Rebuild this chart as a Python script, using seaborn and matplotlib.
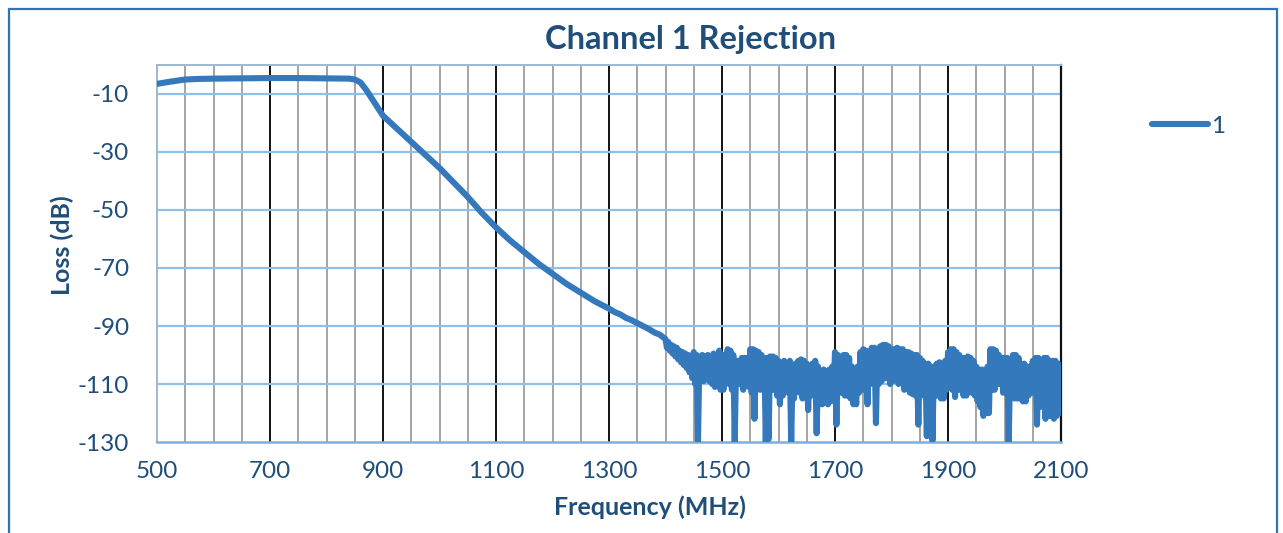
import matplotlib
matplotlib.use("Agg")
import matplotlib.pyplot as plt
from matplotlib.patches import Rectangle
import numpy as np
import pandas as pd
import seaborn as sns

# passband + roll-off (MHz, dB)
freq_smooth = [500, 525, 550, 575, 600, 650, 700, 750, 800, 840, 850, 860, 870,
               880, 890, 900, 925, 950, 975, 1000, 1025, 1050, 1075, 1100, 1125,
               1150, 1175, 1200, 1225, 1250, 1275, 1300, 1310, 1320, 1330, 1340,
               1350, 1360, 1370, 1380, 1390]
loss_smooth = [-6.5, -5.7, -5.0, -4.8, -4.7, -4.6, -4.5, -4.5, -4.6, -4.7, -5.0,
               -6.0, -8.5, -11.5, -14.5, -17.5, -22.0, -26.5, -31.0, -35.5, -40.5,
               -45.5, -51.0, -56.0, -60.5, -64.5, -68.5, -72.0, -75.5, -78.5,
               -81.5, -84.0, -85.2, -86.0, -87.2, -88.0, -89.0, -90.0, -91.0,
               -92.2, -93.0]

# noise floor: upper edge read every 5 MHz (1400..2100)
floor_top = [
    -94.5, -95.5, -96.5, -97, -97.5, -98.5, -99, -99.5, -100, -100.5,
    -99, -100, -101, -100, -100.5, -100, -101, -99.5, -100, -98.5,
    -100, -100, -98, -98.5, -100, -102, -102, -101, -101, -101,
    -98, -98, -98.5, -99, -100, -101, -101, -100.5, -100.5, -101,
    -102, -103, -102, -103, -102, -104, -103, -102, -101.5, -102,
    -103, -104, -103, -102, -104, -106, -105, -105.5, -105, -104,
    -99, -100, -101, -100, -100, -101, -104, -105, -104, -99,
    -98, -98.5, -99, -97.5, -97.5, -98, -97, -96.5, -96.5, -97,
    -98, -98, -97.5, -98, -98, -99, -99, -99.5, -100, -100,
    -101, -102, -103, -103, -104, -104, -103, -102.5, -104, -102,
    -99, -98, -98, -99, -100, -101, -101, -100.5, -101, -102,
    -104, -105, -105, -106, -104, -98, -98, -98.5, -100, -101,
    -101, -101, -102, -100, -100, -101, -103, -103, -104, -104,
    -102, -101, -101, -102, -101, -101, -102, -102, -102, -103, -104,
]
# noise floor: lower edge and dropouts read every 5 MHz (1402.5..2097.5)
floor_bottom = [
    -97.5, -98.5, -99.5, -100.5, -101.5, -102.5, -103.5, -104.5, -106, -108,
    -110, -130, -108, -109, -108, -109, -110, -111, -110, -112,
    -112, -108, -110, -112, -130, -110, -110, -112, -110, -111,
    -113, -122, -110, -112, -110, -130, -129, -112, -112, -114,
    -117, -114, -112, -113, -130, -115, -111, -113, -115, -114,
    -119, -114, -112, -127, -115, -117, -116, -117, -116, -113,
    -124, -113, -113, -114, -114, -115, -117, -117, -113, -112,
    -112, -117, -110, -108, -123.5, -110, -109, -108, -108, -110,
    -109, -108, -110, -109, -112, -111, -113, -113.5, -114, -124,
    -112, -114, -128, -113, -129.5, -114, -114, -115, -115, -112,
    -111, -112, -114.5, -112, -112, -114, -114, -112, -113, -114,
    -116, -118, -121, -120, -120, -112, -112, -110, -110, -113,
    -113, -130, -113, -115, -115, -115, -116, -116, -114, -113,
    -113, -124, -118, -116, -122, -121, -121, -122, -121, -120,
]
freq_top = np.arange(1400, 2101, 5)
freq_bottom = np.arange(1402.5, 2100, 5)

x_ticks = [500, 700, 900, 1100, 1300, 1500, 1700, 1900, 2100]
y_ticks = [-10, -30, -50, -70, -90, -110, -130]

LINE = "#3579BD"
NAVY = "#1F4E79"

df = pd.concat([
    pd.DataFrame({"freq": freq_smooth, "loss": loss_smooth}),
    pd.DataFrame({"freq": freq_top, "loss": floor_top}),
    pd.DataFrame({"freq": freq_bottom, "loss": floor_bottom}),
]).sort_values("freq").reset_index(drop=True)

sns.set_style("white")
plt.rcParams["font.family"] = ["Lato", "DejaVu Sans"]
plt.rcParams["axes.unicode_minus"] = False

fig = plt.figure(figsize=(12.83, 5.33), dpi=100)
ax = fig.add_axes([157 / 1283, 91 / 533, 904 / 1283, 377 / 533])

# grid: grey every 50 MHz, black every 200 MHz, light blue horizontals
for f in range(550, 2100, 50):
    if (f - 500) % 200 == 0:
        ax.axvline(f, color="#111111", lw=1.4, zorder=1)
    else:
        ax.axvline(f, color="#8c8c8c", lw=1.1, zorder=1)
for t in y_ticks[:-1]:
    ax.axhline(t, color="#8EC1EA", lw=1.6, zorder=2)

sns.lineplot(data=df, x="freq", y="loss", ax=ax, color=LINE, lw=4.4,
             estimator=None, sort=False, label="1", zorder=3)

ax.set_xlim(500, 2100)
ax.set_ylim(-130, 0)
ax.set_xticks(x_ticks)
ax.set_yticks(y_ticks)
ax.tick_params(length=0, labelsize=17.5, labelcolor=NAVY)
ax.tick_params(axis="y", pad=20)
ax.tick_params(axis="x", pad=14)

for side in ["left", "top"]:
    ax.spines[side].set_color("#9DB8D0")
    ax.spines[side].set_linewidth(1.4)
ax.spines["bottom"].set_color("#7FAEDB")
ax.spines["bottom"].set_linewidth(1.8)
ax.spines["right"].set_color("#111111")
ax.spines["right"].set_linewidth(1.6)

ax.set_xlabel("Frequency (MHz)", fontsize=18, fontweight="bold", color=NAVY)
ax.set_ylabel("Loss (dB)", fontsize=18, fontweight="bold", color=NAVY)
ax.xaxis.set_label_coords(0.545, -0.143)
ax.yaxis.set_label_coords(-0.092, 0.523)

ax.legend_.remove()
fig.legend(loc="center left", bbox_to_anchor=(1130 / 1283, 1 - 126 / 533),
           frameon=False, fontsize=17.5, handlelength=2.3, handletextpad=0.15,
           labelcolor=NAVY)

fig.text(691 / 1283, 1 - 40 / 533, "Channel 1 Rejection", ha="center",
         va="center", fontsize=23.5, fontweight="bold", color=NAVY)

# blue chart frame
fig.patches.append(Rectangle((9 / 1283, -0.05), 1268 / 1283, 1.05 - 9 / 533,
                             transform=fig.transFigure, fill=False,
                             edgecolor="#2E75B6", lw=1.6))

fig.savefig("out.png", dpi=100)
